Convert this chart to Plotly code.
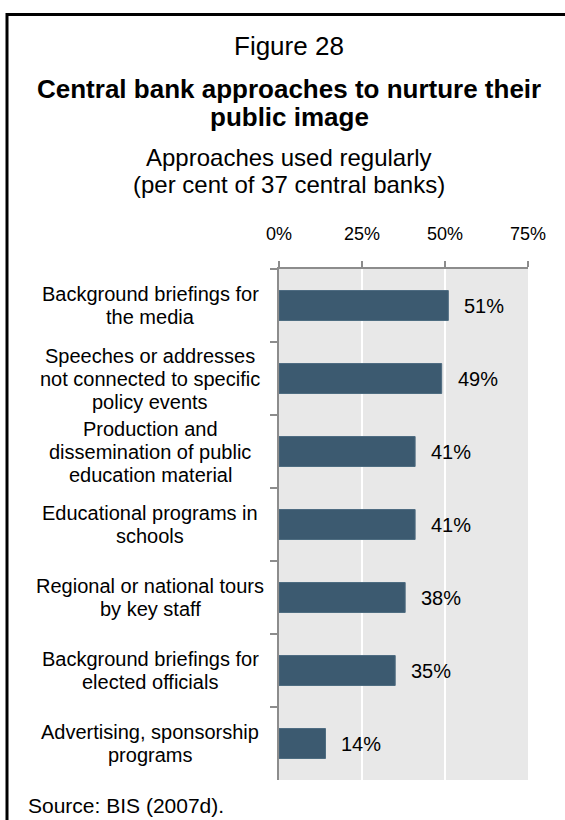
import plotly.graph_objects as go

categories = [
    "Background briefings for<br>the media",
    "Speeches or addresses<br>not connected to specific<br>policy events",
    "Production and<br>dissemination of public<br>education material",
    "Educational programs in<br>schools",
    "Regional or national tours<br>by key staff",
    "Background briefings for<br>elected officials",
    "Advertising, sponsorship<br>programs",
]
values = [51, 49, 41, 41, 38, 35, 14]
tick_vals = [0, 25, 50, 75]
tick_text = ["0%", "25%", "50%", "75%"]

FONT = "Liberation Sans, Arial, sans-serif"
W, H = 565, 820
L, R, T, B = 279, 528, 269, 780  # plot area in pixels


def px(x):
    return (x - L) / (R - L)


def py(y):
    return (B - y) / (B - T)


fig = go.Figure()
fig.add_trace(go.Bar(
    x=values, y=categories, orientation="h",
    marker=dict(color="#3c5a70", line=dict(color="#4d6b80", width=1)),
    width=0.41, hoverinfo="skip",
))

annotations = []
# category labels, line by line, centered
for cat in categories:
    lines = cat.split("<br>")
    n = len(lines)
    for i, ln in enumerate(lines):
        off = (i - (n - 1) / 2) * 23
        annotations.append(dict(
            x=px(150), xref="paper", y=cat, yref="y", text=ln,
            showarrow=False, xanchor="center", yanchor="middle",
            yshift=-off, font=dict(family=FONT, size=20, color="#000"),
        ))
# value labels
for cat, v in zip(categories, values):
    annotations.append(dict(
        x=v, xref="x", y=cat, yref="y", text=f"{v}%", showarrow=False,
        xanchor="left", yanchor="middle", xshift=14,
        font=dict(family=FONT, size=20, color="#000"),
    ))
# titles
titles = [
    ("Figure 28", 46, 26, False),
    ("Central bank approaches to nurture their", 89, 26, True),
    ("public image", 117, 26, True),
    ("Approaches used regularly", 157.5, 24, False),
    ("(per cent of 37 central banks)", 184, 24, False),
]
for txt, yy, sz, bold in titles:
    annotations.append(dict(
        x=px(289), xref="paper", y=py(yy), yref="paper",
        text=f"<b>{txt}</b>" if bold else txt, showarrow=False,
        xanchor="center", yanchor="middle",
        font=dict(family=FONT, size=sz, color="#000"),
    ))
annotations.append(dict(
    x=px(26), xref="paper", y=py(805.5), yref="paper",
    text="Source: BIS (2007d).", showarrow=False,
    xanchor="left", yanchor="middle",
    font=dict(family=FONT, size=21, color="#000"),
))

fig.update_layout(
    width=W, height=H,
    margin=dict(l=L, r=W - R, t=T, b=H - B, pad=0),
    paper_bgcolor="white", plot_bgcolor="#e8e8e8",
    showlegend=False, annotations=annotations,
    font=dict(family=FONT, color="#000"),
    shapes=[dict(
        type="rect", xref="paper", yref="paper",
        x0=px(7), x1=px(575), y0=py(14.5), y1=py(840),
        line=dict(color="black", width=3), layer="above",
    )],
    bargap=0.59,
)
fig.update_xaxes(
    side="top", range=[0, 75], tickvals=tick_vals, ticktext=tick_text,
    showgrid=True, gridcolor="white", gridwidth=1.5,
    showline=True, linecolor="#8c8c8c", linewidth=1.5,
    ticks="outside", ticklen=6, tickcolor="#8c8c8c", tickwidth=1.5,
    tickfont=dict(family=FONT, size=18, color="#000"),
    ticklabelstandoff=14, zeroline=False, fixedrange=True,
)
fig.update_yaxes(
    type="category", autorange="reversed", categoryorder="array",
    categoryarray=categories, showticklabels=False,
    showline=True, linecolor="#8c8c8c", linewidth=1.5,
    ticks="outside", ticklen=7, tickcolor="#8c8c8c", tickwidth=1.5,
    tickson="boundaries", showgrid=False, zeroline=False, fixedrange=True,
)

fig.write_html("out.html")
